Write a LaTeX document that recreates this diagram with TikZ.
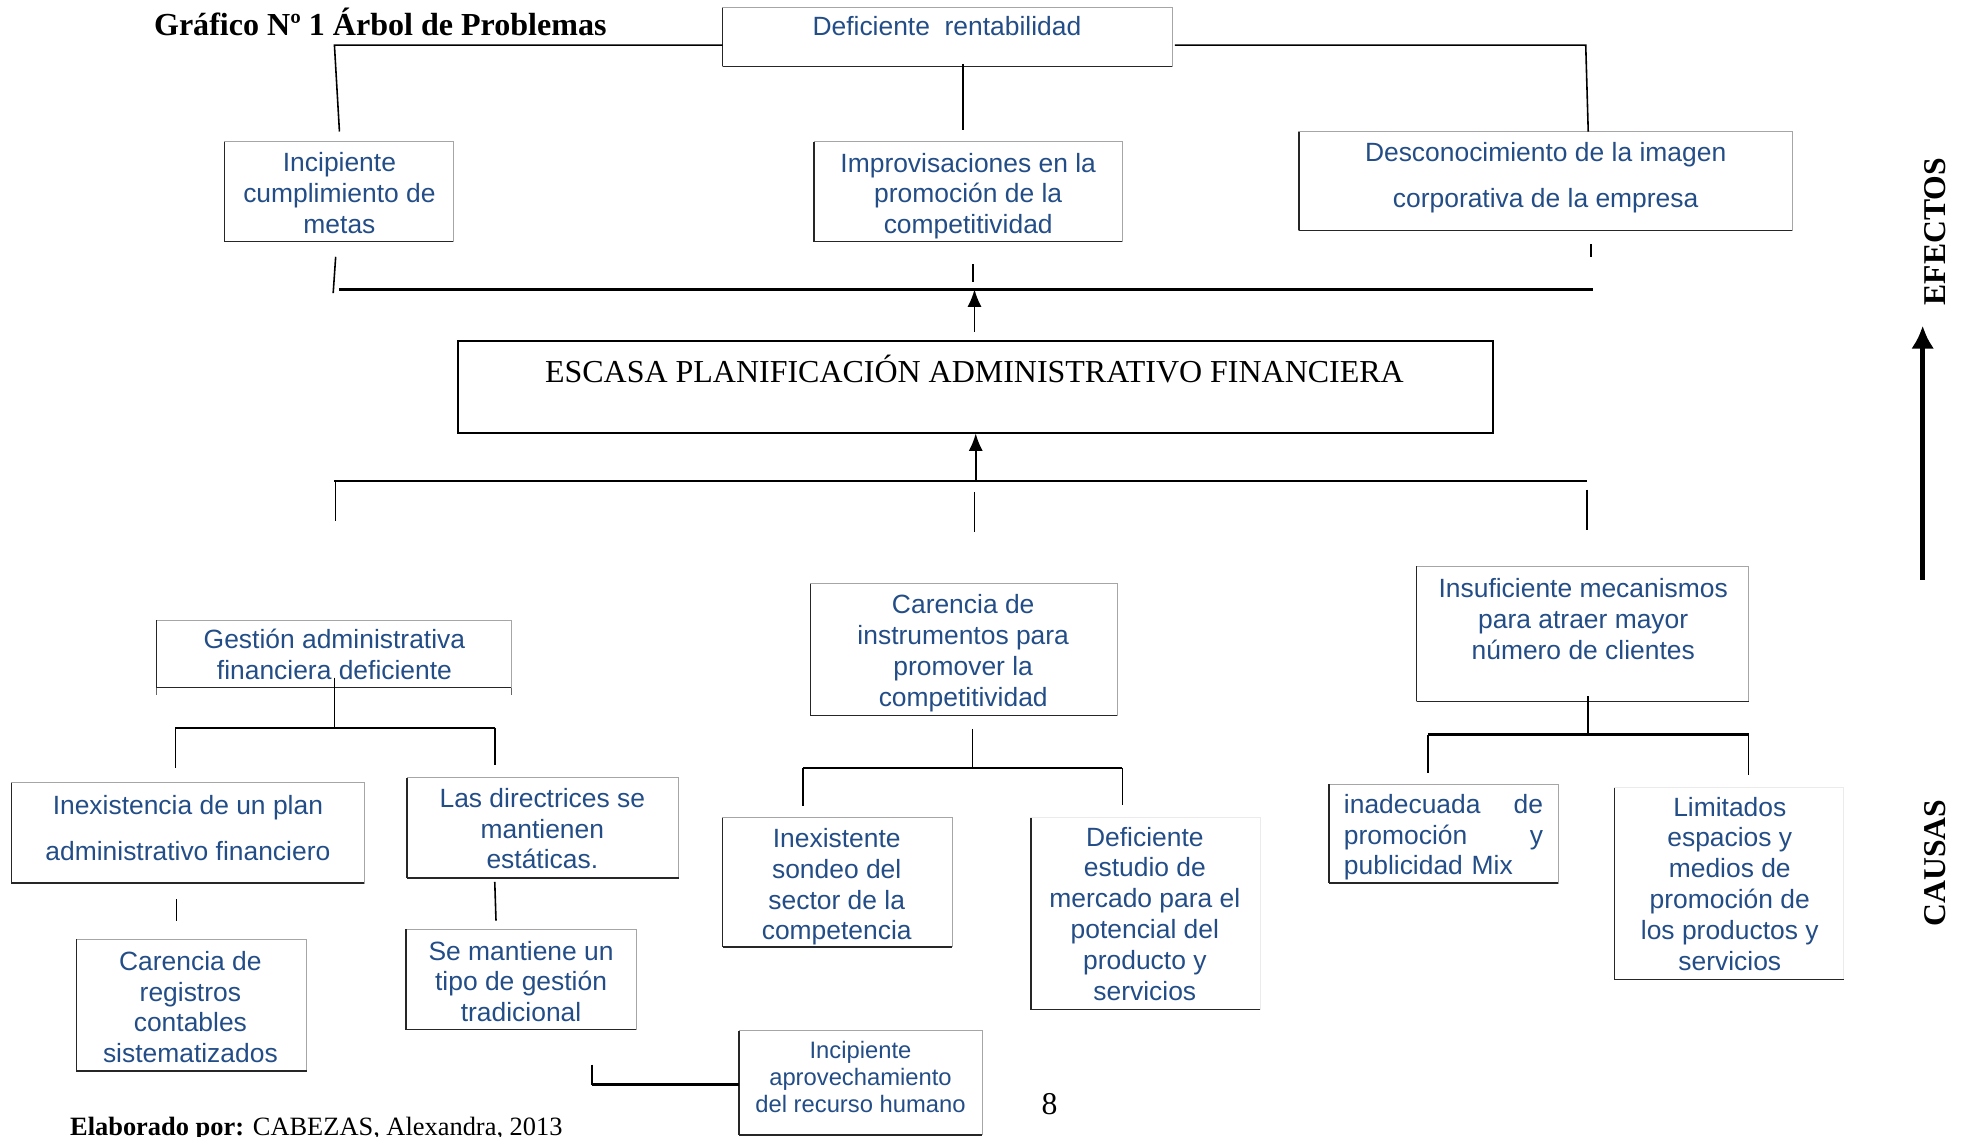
\documentclass[tikz,border=0pt]{standalone}
\usepackage{fontspec}
\setmainfont{Liberation Serif}
\setsansfont{Liberation Sans}
\usepackage{tikz}
\usepackage{xcolor}
\usetikzlibrary{positioning, arrows.meta, calc, fit}
\definecolor{boxblue}{RGB}{35,77,135}

\begin{document}
\begin{tikzpicture}[
  x=0.025cm, y=-0.025cm,
  >={Latex[length=10pt,width=8pt]},
  every node/.style={inner sep=0pt, outer sep=0pt},
  boxtext/.style={font=\sffamily\fontsize{15}{17.5}\selectfont, text=boxblue, align=center},
  boxedge/.style={draw=black!85, line width=0.8pt},
  box/.style={draw=black!35, line width=0.5pt,
    append after command={(\tikzlastnode.north west) edge[boxedge] (\tikzlastnode.south west)
      (\tikzlastnode.south west) edge[boxedge] (\tikzlastnode.south east)}},
  openbox/.style={box, draw=black!8},
  mainbox/.style={draw=black, line width=1.2pt},
  serif/.style={font=\fontsize{18.15}{21}\selectfont},
  link/.style={line width=0.9pt},
  bar/.style={line width=1.4pt}
]
\useasboundingbox (0,0) rectangle (1568,907);

% Title
\node[font=\bfseries\fontsize{18.2}{21}\selectfont, anchor=base west] (titulo) at (123,28)
  {Gráfico Nº 1 Árbol de Problemas};

% Effects
\node[box, fit={(577,6) (936,53)}] (rentabilidad) {};
\node[boxtext, anchor=base] (rentabilidad-t) at (756,28.7) {Deficiente\ \ rentabilidad};
\node[box, fit={(179,113) (362,193)}] (metas) {};
\node[boxtext] (metas-t) at (271,154) {Incipiente\\cumplimiento de\\metas};
\node[box, fit={(650,113) (896,193)}] (improvisacion) {};
\node[boxtext] (improvisacion-t) at (773,156.5) {Improvisaciones en la\\promoción de la\\competitividad};
\node[box, fit={(1037,105) (1431,184)}] (imagen) {};
\node[boxtext] (imagen-t) at (1234,142) {Desconocimiento de la imagen\\[8.8pt]corporativa de la empresa};

% Central problem
\node[mainbox, fit={(366,272) (1192,346)}] (problema) {};
\node[serif, anchor=base] (problema-t) at (778,305.5) {ESCASA PLANIFICACIÓN ADMINISTRATIVO FINANCIERA};

% Causes
\node[box, fit={(125,495) (408,549)}] (gestion) {};
\node[boxtext] (gestion-t) at (267,522.5) {Gestión administrativa\\financiera deficiente};
\node[box, fit={(647,466) (892,571)}] (instrumentos) {};
\node[boxtext] (instrumentos-t) at (769,521.5) {Carencia de\\instrumentos para\\promover la\\competitividad};
\node[box, fit={(1131,452) (1396,560)}] (mecanismos) {};
\node[boxtext] (mecanismos-t) at (1264,494) {Insuficiente mecanismos\\para atraer mayor\\número de clientes};

\node[box, fit={(9,625) (291,705)}] (plan) {};
\node[boxtext] (plan-t) at (150,661) {Inexistencia de un plan\\[8.8pt]administrativo financiero};
\node[box, fit={(325,621) (542,701)}] (directrices) {};
\node[boxtext] (directrices-t) at (433,661.5) {Las directrices se\\mantienen\\estáticas.};
\node[box, fit={(577,653) (760,756)}] (sondeo) {};
\node[boxtext] (sondeo-t) at (668,708) {Inexistente\\sondeo del\\sector de la\\competencia};
\node[openbox, fit={(823,653) (1006,806)}] (estudio) {};
\node[boxtext] (estudio-t) at (914,729.5) {Deficiente\\estudio de\\mercado para el\\potencial del\\producto y\\servicios};
\node[box, fit={(1061,626) (1244,705)}] (mix) {};
\node[boxtext, text width=3.975cm, align=left] (mix-t) at (1152.5,668.5)
  {inadecuada\hfill de\\promoción\hfill y\\publicidad Mix};
\node[openbox, fit={(1289,629) (1472,782)}] (espacios) {};
\node[boxtext] (espacios-t) at (1381,705.5) {Limitados\\espacios y\\medios de\\promoción de\\los productos y\\servicios};

\node[box, fit={(61,750) (245,855)}] (registros) {};
\node[boxtext] (registros-t) at (152,804) {Carencia de\\registros\\contables\\sistematizados};
\node[box, fit={(324,742) (508,822)}] (tradicional) {};
\node[boxtext] (tradicional-t) at (416,783.5) {Se mantiene un\\tipo de gestión\\tradicional};
\node[box, fit={(590,823) (784,906)}] (humano) {};
\node[boxtext, font=\sffamily\fontsize{13.5}{15.3}\selectfont] (humano-t) at (687,860)
  {Incipiente\\aprovechamiento\\del recurso humano};

% Effect links
\draw[link] (271,105) -- (267,36) -- (rentabilidad.west |- 0,36);
\draw[link] (938,36) -- (1266,36) -- (1268,105);
\draw[link] (769,51) -- (769,104);
\draw[link] (268,205) -- (266,234);
\draw[link] (777,211) -- (777,225);
\draw[link] (1270,195) -- (1270,205);
\coordinate (efectos-m) at (778,231);
\draw[bar] (271,231) -- (1272,231);
\draw[link, ->] ([yshift=5pt]problema.north -| efectos-m) -- (efectos-m);

% Cause links
\coordinate (causas-m) at (779,384);
\draw[bar] (267,384) -- (1267,384);
\draw[link, ->] (causas-m) -- (problema.south -| causas-m);
\draw[link] (268,384) -- (268,416);
\draw[link] (778,393) -- (778,425);
\draw[link] (1267,391) -- (1267,423);

% Gestion branch
\draw[black!60, line width=0.5pt] (gestion.south west) -- ++(0,6) (gestion.south east) -- ++(0,6);
\draw[link] (267,541) -- (267,581);
\draw[bar] (140,581) -- (395,581);
\draw[link] (140,581) -- (140,613) (395,581) -- (395,611);
\draw[link] (141,718) -- (141,735);
\draw[link] (395,704) -- (396,735);

% Instrumentos branch
\draw[link] (776.5,582) -- (776.5,613);
\draw[bar] (641,613) -- (896,613);
\draw[link] (641,613) -- (641,643.5) (896,613) -- (896,643);

% Mecanismos branch
\draw[link] (1268,556) -- (1268,586.5);
\draw[bar] (1140,586.5) -- (1396,586.5);
\draw[link] (1140,586.5) -- (1140,617) (1396,586.5) -- (1396,619);

% Humano link
\coordinate (humano-c) at (472.6,850);
\draw[link] (humano-c) -- (472.6,866);
\draw[bar] (472.6,866) -- (humano.west |- 0,866);

% Side arrow and labels
\coordinate (flecha-a) at (1535,463);
\coordinate (flecha-b) at (1535,260);
\draw[line width=2.8pt, -{Latex[length=13pt,width=13pt]}] (flecha-a) -- (flecha-b);
\node[font=\bfseries\fontsize{18}{21}\selectfont, rotate=90] (efectos) at (1545,185) {EFECTOS};
\node[font=\bfseries\fontsize{18}{21}\selectfont, rotate=90] (causas) at (1545,689) {CAUSAS};

% Footer
\node[font=\fontsize{18}{21}\selectfont, anchor=base] (pagina) at (838,890) {8};
\node[font=\fontsize{15}{18}\selectfont, anchor=base west] (autor) at (56,906.5)
  {\textbf{Elaborado por:} CABEZAS, Alexandra, 2013};

\end{tikzpicture}
\end{document}
